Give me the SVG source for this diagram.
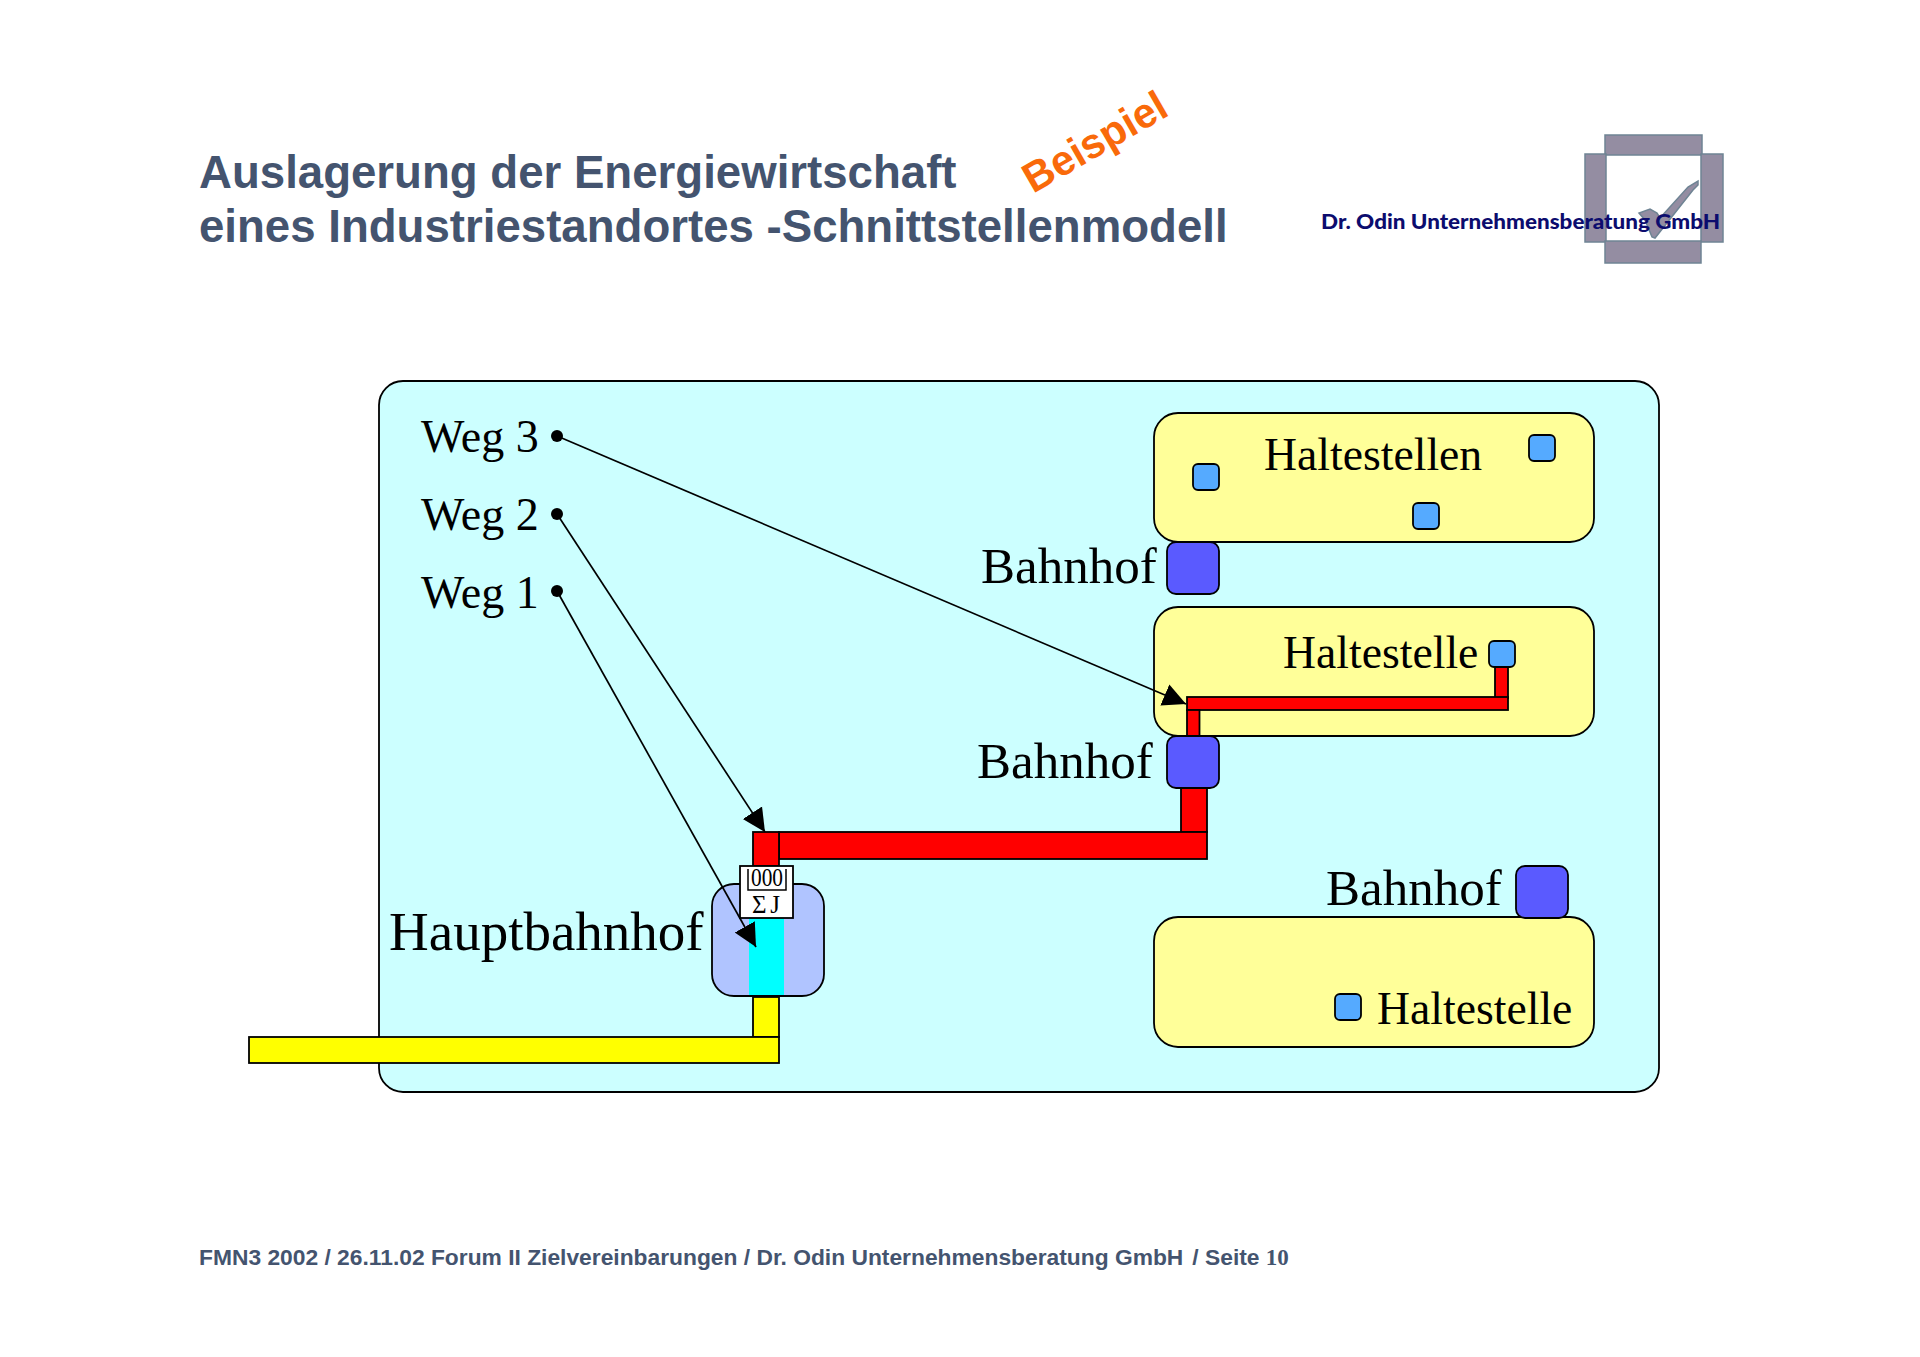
<svg xmlns="http://www.w3.org/2000/svg" width="1920" height="1357" viewBox="0 0 1920 1357">
<style>
.s{stroke:#000;stroke-width:1.8}
.t{font-family:"Liberation Serif",serif;fill:#000}
.b{font-family:"Liberation Sans",sans-serif;font-weight:700;fill:#44546f}
.m{fill:#948da2;stroke:#6f8494;stroke-width:1.5}
.y{fill:#ffff99}.r{fill:#f00}.bh{fill:#5a5aff}.h{fill:#55aaff}
.l{stroke:#000;stroke-width:1.7;fill:none;marker-end:url(#a)}
</style>
<defs>
<marker id="a" markerUnits="userSpaceOnUse" markerWidth="26" markerHeight="26" refX="23" refY="12" orient="auto"><path d="M0 0.500L23 12L0 23.500Z" fill="#000"/></marker>
</defs>
<rect width="1920" height="1357" fill="#fff"/>
<g id="header">
<text class="b" x="199" y="188" font-size="45.6">Auslagerung der Energiewirtschaft</text>
<text class="b" x="199" y="242" font-size="45.6">eines Industriestandortes -Schnittstellenmodell</text>
<text x="1033" y="194" transform="rotate(-30 1033 194)" font-family="Liberation Sans,sans-serif" font-weight="700" font-size="42" fill="#f96a0a" textLength="159" lengthAdjust="spacingAndGlyphs">Beispiel</text>
</g>
<g id="logo">
<rect class="m" x="1605" y="135" width="97" height="20"/>
<rect class="m" x="1585" y="154" width="21" height="88"/>
<rect class="m" x="1701" y="154" width="22" height="88"/>
<rect class="m" x="1605" y="241" width="96" height="22"/>
<path class="m" d="M1698 181L1698 185L1693 190L1655 238L1652 237L1645 220L1639 213L1650 209L1657 213L1660 218L1688 187Z"/>
<text x="1321" y="229" font-family="Lato,sans-serif" font-weight="900" font-size="21.5" fill="#0c0c6e" textLength="399" lengthAdjust="spacingAndGlyphs">Dr. Odin Unternehmensberatung GmbH</text>
</g>
<g id="panel"><rect class="s" x="379" y="381" width="1280" height="711" rx="24" fill="#ccffff"/></g>
<g id="area-haltestellen"><rect class="s y" x="1154" y="413" width="440" height="129" rx="24"/><text class="t" x="1264" y="470" font-size="45.7">Haltestellen</text></g>
<g id="area-haltestelle-mid"><rect class="s y" x="1154" y="607" width="440" height="129" rx="24"/><text class="t" x="1283" y="668" font-size="45.7">Haltestelle</text></g>
<g id="area-haltestelle-low"><rect class="s y" x="1154" y="917" width="440" height="130" rx="24"/><text class="t" x="1377" y="1024" font-size="45.7">Haltestelle</text></g>
<g id="stops">
<rect class="s h" x="1193" y="464" width="26" height="26" rx="5"/>
<rect class="s h" x="1529" y="435" width="26" height="26" rx="5"/>
<rect class="s h" x="1413" y="503" width="26" height="26" rx="5"/>
<rect class="s h" x="1335" y="994" width="26" height="26" rx="5"/>
</g>
<g id="hub-body">
<rect class="s" x="712" y="884" width="112" height="112" rx="22" fill="#b0c4ff"/>
<rect x="749" y="917" width="35" height="78" fill="#0ff"/>
</g>
<g id="pipes">
<rect class="s r" x="1495" y="667" width="13" height="31"/>
<rect class="s r" x="1187" y="697" width="321" height="13"/>
<rect class="s r" x="1187" y="710" width="12.500" height="27"/>
<rect class="s r" x="1181" y="788" width="26" height="44"/>
<rect class="s r" x="779" y="832" width="428" height="27"/>
<rect class="s r" x="753" y="832" width="26" height="34"/>
<rect class="s" fill="#ff0" x="753" y="997" width="26" height="40"/>
<rect class="s" fill="#ff0" x="249" y="1037" width="530" height="26"/>
</g>
<g id="bahnhof-1"><rect class="s bh" x="1167" y="542" width="52" height="52" rx="9"/><text class="t" x="981" y="583" font-size="51">Bahnhof</text></g>
<g id="bahnhof-2"><rect class="s bh" x="1167" y="736" width="52" height="52" rx="9"/><text class="t" x="977" y="778" font-size="51">Bahnhof</text></g>
<g id="bahnhof-3"><rect class="s bh" x="1516" y="866" width="52" height="52" rx="9"/><text class="t" x="1326" y="905" font-size="51">Bahnhof</text></g>
<g id="stop-mid"><rect class="s h" x="1489" y="641" width="26" height="26" rx="5"/></g>
<g id="meter">
<rect class="s" x="740" y="866" width="53" height="52" fill="#fff"/>
<path d="M748 869V890H786V869" fill="none" stroke="#000" stroke-width="1.5"/>
<text class="t" x="751" y="886" font-size="25" textLength="32" lengthAdjust="spacingAndGlyphs">000</text>
<text class="t" x="752" y="913" font-size="25" textLength="28">Σ J</text>
</g>
<g id="hauptbahnhof"><text class="t" x="389" y="950" font-size="55">Hauptbahnhof</text></g>
<g id="wege">
<text class="t" x="421" y="452" font-size="46">Weg 3</text>
<text class="t" x="421" y="530" font-size="46">Weg 2</text>
<text class="t" x="421" y="608" font-size="46">Weg 1</text>
<circle cx="557" cy="436" r="6"/><circle cx="557" cy="514" r="6"/><circle cx="557" cy="591" r="6"/>
</g>
<g id="connectors">
<path class="l" d="M557 436L1186 704"/>
<path class="l" d="M557 514L765 832"/>
<path class="l" d="M557 591L756 947"/>
</g>
<g id="footer"><text class="b" x="199" y="1265" font-size="22.8">FMN3 2002 / 26.11.02 Forum II Zielvereinbarungen / Dr. Odin Unternehmensberatung GmbH<tspan dx="9">/ Seite</tspan> <tspan font-family="Liberation Serif,serif" font-size="23">10</tspan></text></g>
</svg>
